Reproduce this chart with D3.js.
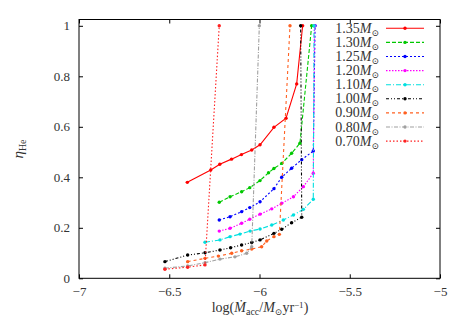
<!DOCTYPE html>
<html>
<head>
<meta charset="utf-8">
<script src="https://cdn.jsdelivr.net/npm/d3@7"></script>
<style>
  body { margin: 0; background: #fff; }
  text { font-family: "Liberation Serif", "DejaVu Serif", serif; fill: #333; }
</style>
</head>
<body>
<div id="chart"></div>
<script>
// stellar masses (legend labels) and their accretion-rate / eta tracks
const masses = ["1.35", "1.30", "1.25", "1.20", "1.10", "1.00", "0.90", "0.80", "0.70"];

const logMdot = [
  [-6.40, -6.27, -6.22, -6.155, -6.10, -6.043, -5.997, -5.92, -5.853, -5.794, -5.761],
  [-6.223, -6.163, -6.099, -6.054, -5.997, -5.95, -5.92, -5.877, -5.822, -5.776, -5.711],
  [-6.223, -6.163, -6.099, -6.054, -5.997, -5.92, -5.877, -5.822, -5.766, -5.702, -5.692],
  [-6.223, -6.163, -6.099, -6.054, -5.997, -5.932, -5.877, -5.812, -5.757, -5.702, -5.695],
  [-6.302, -6.219, -6.163, -6.108, -6.052, -5.997, -5.932, -5.868, -5.812, -5.757, -5.702, -5.698],
  [-6.524, -6.398, -6.302, -6.219, -6.16, -6.099, -6.043, -5.997, -5.92, -5.877, -5.822, -5.766, -5.772],
  [-6.398, -6.302, -6.228, -6.154, -6.099, -6.043, -5.988, -5.96, -5.92, -5.89, -5.831],
  [-6.524, -6.398, -6.302, -6.219, -6.136, -6.071, -6.043, -6.001],
  [-6.524, -6.398, -6.302, -6.223]
];

const eta = [
  [0.380, 0.429, 0.452, 0.472, 0.490, 0.508, 0.529, 0.598, 0.634, 0.770, 1.0],
  [0.301, 0.323, 0.343, 0.359, 0.387, 0.418, 0.435, 0.455, 0.495, 0.535, 1.0],
  [0.231, 0.244, 0.264, 0.280, 0.303, 0.355, 0.400, 0.436, 0.470, 0.504, 1.0],
  [0.187, 0.198, 0.218, 0.234, 0.254, 0.275, 0.297, 0.323, 0.363, 0.416, 1.0],
  [0.143, 0.152, 0.165, 0.175, 0.187, 0.195, 0.211, 0.231, 0.251, 0.273, 0.313, 1.0],
  [0.066, 0.092, 0.101, 0.112, 0.121, 0.132, 0.142, 0.152, 0.178, 0.194, 0.220, 0.242, 1.0],
  [0.066, 0.079, 0.088, 0.099, 0.109, 0.116, 0.125, 0.148, 0.165, 0.174, 1.0],
  [0.040, 0.049, 0.062, 0.076, 0.085, 0.099, 0.125, 1.0],
  [0.036, 0.044, 0.053, 1.0]
];

const xTicks = [-7, -6.5, -6, -5.5, -5];
const yTicks = [0, 0.2, 0.4, 0.6, 0.8, 1];

const colors = ["#ff0000", "#00c800", "#0000ff", "#ff00ff", "#00e0e0", "#000000", "#ff6020", "#a0a0a0", "#ff2020"];
const dashes = ["none", "4,2", "2,2", "1.5,1.5", "5,2,1,2", "3,2,1,2,1,2", "3,3", "4,1.5,1,1.5", "1.5,2"];

const W = 463, H = 325;
const margin = { top: 19.5, right: 23, bottom: 46.7, left: 79 };
const width = W - margin.left - margin.right;
const height = H - margin.top - margin.bottom;

const svg = d3.select('#chart').append('svg')
  .attr('width', W).attr('height', H);

const g = svg.append('g')
  .attr('transform', 'translate(' + margin.left + ',' + margin.top + ')');

const x = d3.scaleLinear().domain([-7, -5]).range([0, width]);
const y = d3.scaleLinear().domain([0, 1.025]).range([height, 0]);

// inward ticks on all four sides
g.append('g').attr('transform', 'translate(0,' + height + ')')
  .call(d3.axisBottom(x).tickValues(xTicks).tickSize(-4).tickPadding(8).tickFormat(d3.format('')))
  .call(a => a.select('.domain').remove());
g.append('g')
  .call(d3.axisTop(x).tickValues(xTicks).tickSize(-4).tickFormat(''))
  .call(a => a.select('.domain').remove());
g.append('g')
  .call(d3.axisLeft(y).tickValues(yTicks).tickSize(-4).tickPadding(9).tickFormat(d3.format('')))
  .call(a => a.select('.domain').remove());
g.append('g').attr('transform', 'translate(' + width + ',0)')
  .call(d3.axisRight(y).tickValues(yTicks).tickSize(-4).tickFormat(''))
  .call(a => a.select('.domain').remove());

g.selectAll('.tick line').attr('stroke', '#000');
g.selectAll('.tick text').style('font-size', '13px')
  .style('font-family', '"Liberation Serif", serif').attr('fill', '#333');

g.append('rect').attr('width', width).attr('height', height)
  .attr('fill', 'none').attr('stroke', '#000').attr('stroke-width', 1);

const line = d3.line().x(d => x(d[0])).y(d => y(d[1]));

g.append('clipPath').attr('id', 'clip').append('rect')
  .attr('width', width).attr('height', height);

const plot = g.append('g').attr('clip-path', 'url(#clip)');

masses.forEach((m, i) => {
  const pts = logMdot[i].map((v, j) => [v, eta[i][j]]);
  plot.append('path').datum(pts)
    .attr('d', line)
    .attr('fill', 'none')
    .attr('stroke', colors[i])
    .attr('stroke-width', 1.1)
    .attr('stroke-dasharray', dashes[i]);
  plot.selectAll('.p' + i).data(pts).enter().append('circle')
    .attr('cx', d => x(d[0])).attr('cy', d => y(d[1]))
    .attr('r', 1.7).attr('fill', colors[i]);
});

// legend
const leg = svg.append('g');
masses.forEach((m, i) => {
  const ly = 28.3 + i * 14.1;
  const t = leg.append('text').attr('x', 379).attr('y', ly + 4.5)
    .attr('text-anchor', 'end').style('font-size', '14px');
  t.append('tspan').text(m);
  t.append('tspan').style('font-style', 'italic').text('M');
  t.append('tspan').attr('dy', 3).style('font-size', '9px').text('\u2299');
  leg.append('line').attr('x1', 386).attr('x2', 424).attr('y1', ly).attr('y2', ly)
    .attr('stroke', colors[i]).attr('stroke-width', 1.1).attr('stroke-dasharray', dashes[i]);
  leg.append('circle').attr('cx', 405).attr('cy', ly).attr('r', 1.7).attr('fill', colors[i]);
});

// axis labels
const xl = svg.append('text').attr('x', 260).attr('y', 312)
  .attr('text-anchor', 'middle').style('font-size', '14px');
xl.append('tspan').text('log(');
xl.append('tspan').style('font-style', 'italic').text('M\u0307');
xl.append('tspan').attr('dy', 3).style('font-size', '10px').text('acc');
xl.append('tspan').attr('dy', -3).text('/');
xl.append('tspan').style('font-style', 'italic').text('M');
xl.append('tspan').attr('dy', 3).style('font-size', '9px').text('\u2299');
xl.append('tspan').attr('dy', -3).text('yr');
xl.append('tspan').attr('dy', -4).style('font-size', '9px').text('\u22121');
xl.append('tspan').attr('dy', 4).text(')');

const yl = svg.append('text')
  .attr('transform', 'translate(23,149) rotate(-90)')
  .attr('text-anchor', 'middle').style('font-size', '15px');
yl.append('tspan').style('font-style', 'italic').text('\u03b7');
yl.append('tspan').attr('dy', 3).style('font-size', '10px').text('He');
</script>
</body>
</html>
